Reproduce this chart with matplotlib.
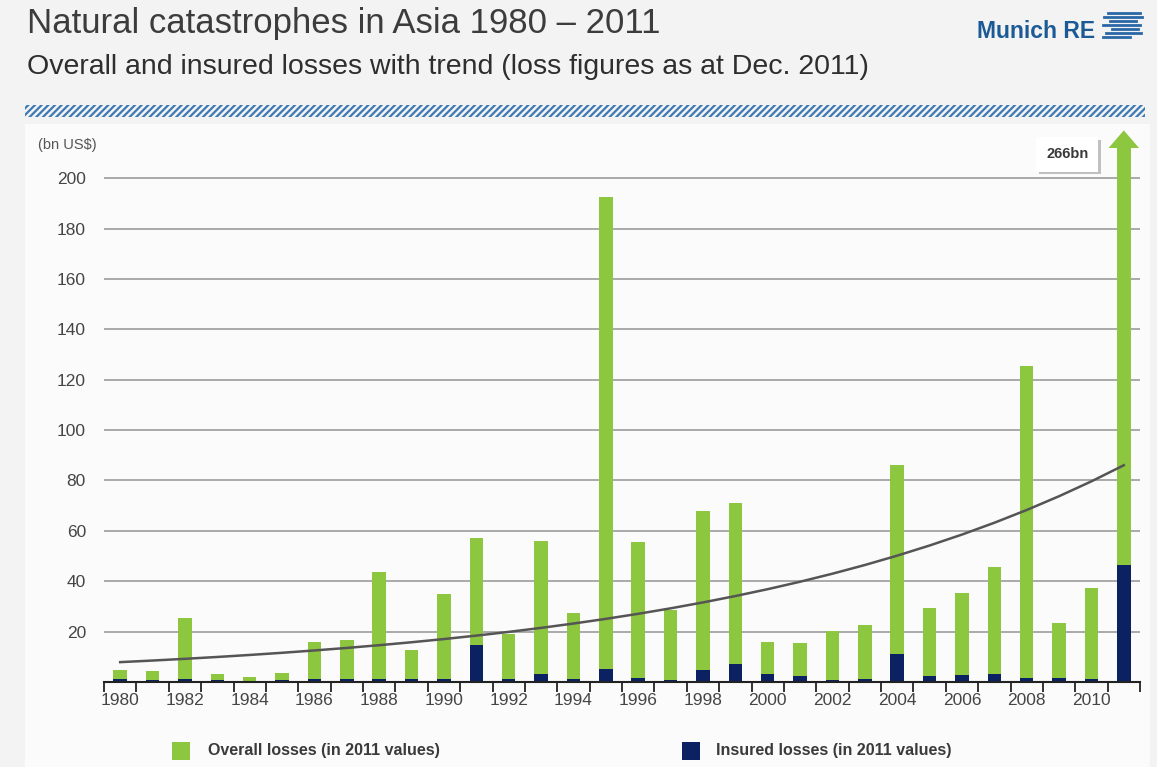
import numpy as np
import matplotlib
matplotlib.use('Agg')
import matplotlib.pyplot as plt
import matplotlib.patheffects as pe
from matplotlib.patches import Rectangle, Polygon
from matplotlib.lines import Line2D

# loss figures in bn US$ (2011 values)
years = list(range(1980, 2012))
overall = [4.9, 4.2, 25.4, 3.2, 2.0, 3.6, 15.8, 16.8, 43.7, 12.8,
           35.0, 57.0, 19.2, 56.0, 27.2, 192.5, 55.6, 28.4, 68.0, 71.0,
           15.8, 15.3, 20.3, 22.8, 86.0, 29.3, 35.3, 45.6, 125.4, 23.4,
           37.3, 266.0]
insured = [1.0, 0.8, 1.0, 0.8, 0.2, 0.8, 1.0, 1.0, 1.0, 1.0,
           1.0, 14.6, 1.0, 3.0, 1.0, 5.0, 1.6, 0.7, 4.7, 7.2,
           3.0, 2.3, 0.7, 1.2, 11.2, 2.3, 2.6, 3.0, 1.6, 1.6,
           1.2, 46.4]
yticks = [20, 40, 60, 80, 100, 120, 140, 160, 180, 200]

green = '#8dc63f'
navy = '#0b2161'
grey_txt = '#454545'

plt.rcParams['font.family'] = ['Liberation Sans', 'DejaVu Sans']

fig = plt.figure(figsize=(11.57, 7.67), dpi=100, facecolor='#f3f3f3')

# lighter panel behind the chart
fig.add_artist(Rectangle((25 / 1157, 0), 1125 / 1157, 1 - 124 / 767,
                         transform=fig.transFigure, facecolor='#fbfbfb',
                         edgecolor='none', zorder=0))

# header
fig.text(27 / 1157, 1 - 24 / 767, 'Natural catastrophes in Asia 1980 \u2013 2011',
         fontsize=25, color='#3c3c3c', va='center', ha='left')
fig.text(27 / 1157, 1 - 67 / 767,
         'Overall and insured losses with trend (loss figures as at Dec. 2011)',
         fontsize=20.5, color='#2e2e2e', va='center', ha='left')
fig.text(1095 / 1157, 1 - 31 / 767, 'Munich RE', fontsize=16.5, fontweight='bold',
         color='#1c5a96', va='center', ha='right')
# logo stripes
for yy, x0, x1 in [(13, 1108, 1140), (17, 1104, 1142), (21, 1110, 1136), (25, 1103, 1140),
                   (29, 1112, 1138), (33, 1106, 1141), (37, 1103, 1130)]:
    fig.add_artist(Line2D([x0 / 1157, x1 / 1157], [1 - yy / 767, 1 - yy / 767],
                          transform=fig.transFigure, color='#2a67a6', lw=2))

# hatched stripe under the header
plt.rcParams['hatch.linewidth'] = 1.6
fig.add_artist(Rectangle((25 / 1157, 1 - 117 / 767), 1120 / 1157, 12 / 767,
                         transform=fig.transFigure, facecolor='none',
                         edgecolor='#3d7ab5', hatch='/////', lw=0))

ax = fig.add_axes([104 / 1157, 1 - 682 / 767, 1036 / 1157, (682 - 148) / 767])
ax.set_facecolor('none')

ymax = 212
ax.set_xlim(1979.5, 2011.5)
ax.set_ylim(0, ymax)

ax.bar(years, overall, width=0.42, color=green, zorder=2)
ax.bar(years, insured, width=0.42, color=navy, zorder=3)

# arrow head on the 2011 bar, which runs off the scale
head = Polygon([[2011 - 0.47, ymax], [2011 + 0.47, ymax], [2011, ymax + 7]],
               closed=True, facecolor=green, edgecolor='none', clip_on=False, zorder=3)
ax.add_patch(head)
t = ax.text(2009.25, 209.5, '%dbn' % overall[-1], fontsize=10.5, fontweight='bold',
            color='#3a3a3a', ha='center', va='center', zorder=5,
            bbox=dict(boxstyle='square,pad=0.7', facecolor='white', edgecolor='none'))
t.get_bbox_patch().set_path_effects([pe.withSimplePatchShadow(offset=(2, -2),
                                     shadow_rgbFace='#999999', alpha=0.6), pe.Normal()])

# exponential trend fitted to the overall losses
yr = np.array(years)
coef = np.polyfit(yr, np.log(overall), 1)
trend = np.exp(np.polyval(coef, yr))
ax.plot(yr, trend, color='#555555', lw=1.8, zorder=4)

for v in yticks:
    ax.axhline(v, color='#a3a3a3', lw=1.3, zorder=1)

ax.set_yticks(yticks)
ax.tick_params(axis='y', length=0, pad=13, labelsize=12.5, labelcolor=grey_txt)

ax.set_xticks(years[::2])
ax.set_xticks(np.arange(1979.5, 2012, 1), minor=True)
ax.tick_params(axis='x', which='major', length=0, pad=8, labelsize=12.5, labelcolor=grey_txt)
ax.tick_params(axis='x', which='minor', length=7, width=1.3, color='#222222', direction='out')

for s in ['top', 'right', 'left']:
    ax.spines[s].set_visible(False)
ax.spines['bottom'].set_color('#222222')
ax.spines['bottom'].set_linewidth(1.5)
ax.spines['bottom'].set_zorder(5)

fig.text(38 / 1157, 1 - 145 / 767, '(bn US$)', fontsize=10.5, color='#555555',
         va='center', ha='left')

# legend
fig.add_artist(Rectangle((172 / 1157, 1 - 760 / 767), 18 / 1157, 18 / 767,
                         transform=fig.transFigure, facecolor=green, edgecolor='none'))
fig.text(208 / 1157, 1 - 750 / 767, 'Overall losses (in 2011 values)', fontsize=11.5,
         fontweight='bold', color='#3a3a3a', va='center', ha='left')
fig.add_artist(Rectangle((682 / 1157, 1 - 760 / 767), 18 / 1157, 18 / 767,
                         transform=fig.transFigure, facecolor=navy, edgecolor='none'))
fig.text(716 / 1157, 1 - 750 / 767, 'Insured losses (in 2011 values)', fontsize=11.5,
         fontweight='bold', color='#3a3a3a', va='center', ha='left')

fig.savefig('out.png', dpi=100, facecolor=fig.get_facecolor())
